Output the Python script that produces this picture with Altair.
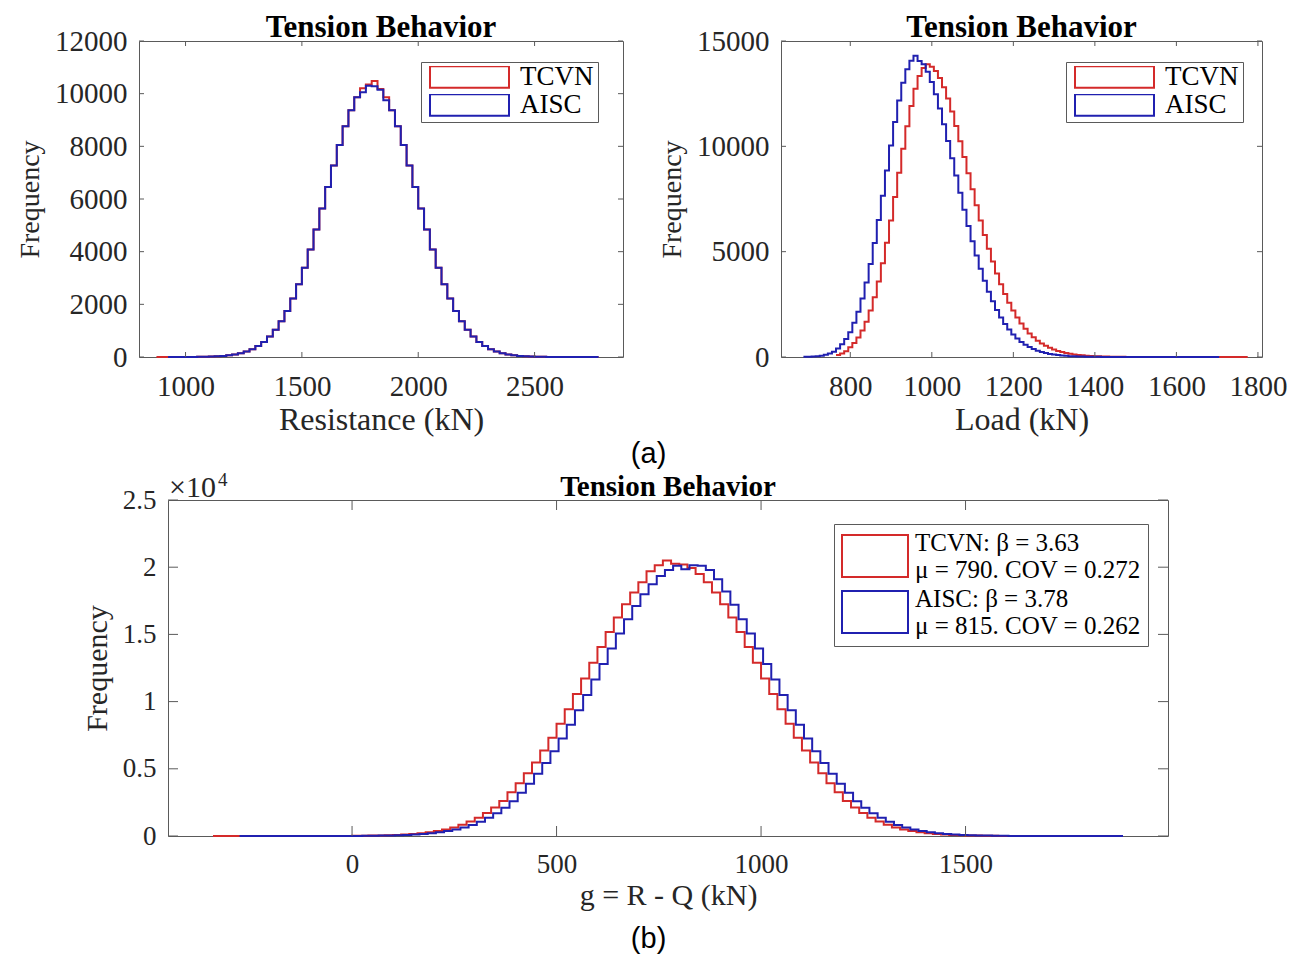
import altair as alt
import pandas as pd

RED = "#d42a2a"
BLUE = "#2020b0"
SERIES = ["TCVN", "AISC"]
FONT = "Liberation Serif"
TXT = "#262626"
FRAME = "#5a5a5a"

# ---------------- (a) left : Resistance ----------------
RES_BIN = 25
RES_TCVN_START = 875
RES_TCVN = [0, 0, 0, 1, 1, 2, 4, 6, 11, 17, 27, 42, 64, 96, 142, 207, 295, 414, 572, 776,
            1034, 1357, 1749, 2219, 2765, 3389, 4084, 4839, 5637, 6455, 7270, 8048, 8760, 9374,
            9863, 10204, 10350, 10480, 10180, 9863, 9374, 8760, 8048, 7270, 6455, 5637, 4839,
            4084, 3389, 2765, 2219, 1749, 1357, 1034, 776, 572, 414, 295, 207, 142, 96, 64, 42,
            27, 17, 11, 6, 4, 2, 1, 1, 0, 0, 0, 0, 0]
RES_AISC_START = 925
RES_AISC = [0, 1, 1, 2, 4, 6, 11, 17, 27, 42, 64, 96, 142, 207, 295, 414, 572, 776, 1034,
            1357, 1749, 2219, 2765, 3389, 4084, 4839, 5637, 6455, 7270, 8048, 8760, 9374, 9863,
            10050, 10300, 10280, 10150, 9750, 9374, 8760, 8048, 7270, 6455, 5637, 4839, 4084,
            3389, 2765, 2219, 1749, 1357, 1034, 776, 572, 414, 295, 207, 142, 96, 64, 42, 27,
            17, 11, 6, 4, 2, 1, 1, 0, 0, 0, 0, 0]
RES_XTICKS = [1000, 1500, 2000, 2500]
RES_YTICKS = [0, 2000, 4000, 6000, 8000, 10000, 12000]
RES_XDOM = [800, 2880]
RES_YDOM = [0, 12000]

# ---------------- (a) right : Load ----------------
LOAD_BIN = 10
LOAD_TCVN_START = 765
LOAD_TCVN = [100, 170, 270, 468, 662, 920, 1254, 1677, 2202, 2837, 3587, 4450, 5420, 6478,
             7597, 8745, 9880, 10954, 11919, 12729, 13340, 13721, 13900, 13780, 13576, 13246,
             12805, 12267, 11650, 10969, 10244, 9490, 8723, 7959, 7208, 6483, 5790, 5137, 4528,
             3967, 3453, 2989, 2572, 2202, 1874, 1588, 1337, 1121, 936, 777, 643, 529, 434, 355,
             289, 234, 189, 152, 122, 97, 78, 62, 49, 38, 30, 24, 18, 14, 11, 9, 7, 5, 4, 3, 2,
             2, 1, 1, 0, 0, 0, 0, 0, 0, 0, 0, 0, 0, 0, 0, 0, 0, 0, 0, 0, 0, 0, 0, 0, 0, 0]
LOAD_AISC_START = 685
LOAD_AISC = [8, 14, 24, 40, 65, 105, 165, 250, 400, 600, 850, 1180, 1621, 2144, 2782, 3541,
             4420, 5413, 6501, 7660, 8852, 10035, 11158, 12170, 13019, 13663, 14064, 14300,
             14050, 13900, 13540, 13056, 12467, 11791, 11048, 10258, 9440, 8613, 7792, 6991,
             6222, 5495, 4816, 4189, 3618, 3102, 2642, 2235, 1878, 1568, 1301, 1073, 880, 717,
             581, 469, 376, 300, 238, 188, 148, 115, 90, 70, 54, 41, 32, 24, 18, 14, 10, 8, 6,
             4, 3, 2, 2, 1, 1, 1, 0, 0, 0, 0, 0, 0, 0, 0, 0, 0, 0, 0, 0, 0, 0, 0, 0, 0, 0, 0,
             0, 0]
LOAD_XTICKS = [800, 1000, 1200, 1400, 1600, 1800]
LOAD_YTICKS = [0, 5000, 10000, 15000]
LOAD_XDOM = [630, 1810]
LOAD_YDOM = [0, 15000]

# ---------------- (b) : g = R - Q ----------------
G_BIN = 20
G_TCVN_START = -340
G_TCVN = [0, 0, 0, 0, 0, 0, 0, 0, 0, 1, 1, 1, 2, 3, 4, 6, 9, 13, 19, 28, 40, 57, 80, 110,
          150, 205, 280, 370, 490, 640, 830, 1070, 1360, 1710, 2120, 2600, 3250, 3920, 4670,
          5474, 6358, 7317, 8346, 9433, 10565, 11727, 12898, 14059, 15186, 16255, 17242,
          18124, 18879, 19700, 20150, 20500, 20250, 20208, 19935, 19488, 18879, 18124, 17242,
          16255, 15186, 14059, 12898, 11727, 10565, 9433, 8346, 7317, 6358, 5474, 4670, 3920,
          3250, 2600, 2120, 1710, 1360, 1070, 830, 640, 490, 370, 280, 205, 150, 110, 80, 57,
          40, 28, 19, 13, 9, 6, 4, 3, 2, 1, 1, 0, 0, 0, 0, 0, 0, 0, 0]
G_AISC_START = -275
G_AISC = [0, 0, 0, 0, 0, 0, 0, 0, 1, 1, 2, 3, 4, 6, 9, 13, 19, 28, 40, 57, 79, 109, 149, 203,
          278, 367, 486, 635, 824, 1062, 1350, 1697, 2104, 2581, 3226, 3891, 4635, 5434, 6311,
          7263, 8284, 9363, 10487, 11640, 12803, 13955, 15074, 16135, 17115, 17990, 18740,
          19344, 19788, 20100, 19850, 20150, 20100, 19800, 19100, 18200, 17200, 16135, 15074,
          13955, 12803, 11640, 10487, 9363, 8284, 7263, 6311, 5434, 4635, 3891, 3226, 2581,
          2104, 1697, 1350, 1062, 824, 635, 486, 367, 278, 203, 149, 109, 79, 57, 40, 28, 19,
          13, 9, 6, 4, 3, 2, 1, 1, 0, 0, 0, 0, 0, 0, 0]
G_XTICKS = [0, 500, 1000, 1500]
G_YTICKS = [0, 5000, 10000, 15000, 20000, 25000]
G_XDOM = [-450, 1995]
G_YDOM = [0, 25000]
G_LEGEND_EXPR = ("datum.label == 'TCVN' ? ['TCVN: β = 3.63', 'μ = 790. COV = 0.272'] "
                 ": ['AISC: β = 3.78', 'μ = 815. COV = 0.262']")


def stairs(start, width, counts, name):
    xs = [start + i * width for i in range(len(counts) + 1)]
    ys = list(counts) + [0]
    return pd.DataFrame({"x": xs, "n": ys, "s": name})


def panel(tcvn, aisc, xdom, ydom, xticks, yticks, w, h, tick_len, xtitle,
          title_size, lab_size, xtitle_size, ytitle_size, xlab_pad, legend,
          title_offset, ylabel_expr=None, extra=None):
    xs = alt.Scale(domain=xdom, nice=False, zero=False)
    ys = alt.Scale(domain=ydom, nice=False, zero=False)
    color = alt.Color("s:N", scale=alt.Scale(domain=SERIES, range=[RED, BLUE]), legend=legend)
    yaxis_kw = dict(values=yticks, title="Frequency", labelFontSize=lab_size,
                    titleFontSize=ytitle_size, labelPadding=12, titlePadding=10)
    if ylabel_expr:
        yaxis_kw["labelExpr"] = ylabel_expr
    else:
        yaxis_kw["format"] = "d"
    xaxis = alt.Axis(values=xticks, title=xtitle, labelFontSize=lab_size,
                     titleFontSize=xtitle_size, labelPadding=xlab_pad, titlePadding=3,
                     format="d")
    yaxis = alt.Axis(**yaxis_kw)
    base_x = alt.X("x:Q", scale=xs, axis=xaxis)
    base_y = alt.Y("n:Q", scale=ys, axis=yaxis)
    l1 = alt.Chart(tcvn).mark_line(interpolate="step-after", strokeWidth=2).encode(
        x=base_x, y=base_y, color=color)
    l2 = alt.Chart(aisc).mark_line(interpolate="step-after", strokeWidth=2).encode(
        x=base_x, y=base_y, color=color)
    xt = pd.DataFrame({"x": xticks})
    yt = pd.DataFrame({"n": yticks})
    r1 = alt.Chart(xt).mark_rule(color=FRAME, strokeWidth=1).encode(
        x=base_x, y=alt.value(h), y2=alt.value(h - tick_len))
    r2 = alt.Chart(xt).mark_rule(color=FRAME, strokeWidth=1).encode(
        x=base_x, y=alt.value(0), y2=alt.value(tick_len))
    r3 = alt.Chart(yt).mark_rule(color=FRAME, strokeWidth=1).encode(
        y=base_y, x=alt.value(0), x2=alt.value(tick_len))
    r4 = alt.Chart(yt).mark_rule(color=FRAME, strokeWidth=1).encode(
        y=base_y, x=alt.value(w - tick_len), x2=alt.value(w))
    layers = [l1, l2, r1, r2, r3, r4]
    if extra:
        layers += extra
    return alt.layer(*layers).properties(
        width=w, height=h,
        title=alt.TitleParams("Tension Behavior", fontSize=title_size, font=FONT,
                              fontWeight="bold", color="black", offset=title_offset,
                              frame="group"),
    )


def top_legend(lx, ly):
    return alt.Legend(title=None, orient="none", legendX=lx, legendY=ly,
                      symbolType="M-1,-0.27H1V0.27H-1Z", symbolSize=6241,
                      symbolStrokeWidth=2, symbolFillColor="transparent",
                      symbolOffset=4, clipHeight=22, rowPadding=1, padding=4,
                      labelOffset=10, labelFont=FONT, labelFontSize=27, labelColor="black",
                      strokeColor=FRAME, fillColor="white", labelLimit=400)


res = panel(stairs(RES_TCVN_START, RES_BIN, RES_TCVN, "TCVN"),
            stairs(RES_AISC_START, RES_BIN, RES_AISC, "AISC"),
            RES_XDOM, RES_YDOM, RES_XTICKS, RES_YTICKS, 484, 316, 5,
            "Resistance (kN)", 31, 29, 32, 28, 15, top_legend(282, 21), -17)

load = panel(stairs(LOAD_TCVN_START, LOAD_BIN, LOAD_TCVN, "TCVN"),
             stairs(LOAD_AISC_START, LOAD_BIN, LOAD_AISC, "AISC"),
             LOAD_XDOM, LOAD_YDOM, LOAD_XTICKS, LOAD_YTICKS, 481, 316, 5,
             "Load (kN)", 31, 29, 32, 28, 15, top_legend(285, 21), -17)

one = pd.DataFrame({"a": [0]})
exp_a = alt.Chart(one).mark_text(font=FONT, fontSize=30, color=TXT, align="left",
                                 baseline="alphabetic").encode(
    x=alt.value(1), y=alt.value(-3), text=alt.value("×10"))
exp_b = alt.Chart(one).mark_text(font=FONT, fontSize=19, color=TXT, align="left",
                                 baseline="alphabetic").encode(
    x=alt.value(50), y=alt.value(-14), text=alt.value("4"))

g_legend = alt.Legend(title=None, orient="none", legendX=666, legendY=24,
                      symbolType="M-1,-0.636H1V0.636H-1Z", symbolSize=4356,
                      symbolStrokeWidth=2, symbolFillColor="transparent",
                      clipHeight=50, rowPadding=4, padding=7, labelOffset=6,
                      labelFont=FONT, labelFontSize=25, labelColor="black",
                      labelBaseline="bottom",
                      strokeColor=FRAME, fillColor="white", labelLimit=600,
                      labelExpr=G_LEGEND_EXPR)

gpanel = panel(stairs(G_TCVN_START, G_BIN, G_TCVN, "TCVN"),
               stairs(G_AISC_START, G_BIN, G_AISC, "AISC"),
               G_XDOM, G_YDOM, G_XTICKS, G_YTICKS, 1000, 336, 10,
               "g = R - Q (kN)", 29, 27, 30, 30, 15, g_legend, -31,
               ylabel_expr="datum.value / 10000", extra=[exp_a, exp_b])

no_frame = alt.ViewBackground(strokeOpacity=0)
spacer_t = alt.Chart(one).mark_point(opacity=0).properties(width=1, height=10, view=no_frame)
spacer_b = alt.Chart(one).mark_point(opacity=0).properties(width=69, height=10, view=no_frame)

top_inner = alt.hconcat(res, load, spacing=34).resolve_scale(color="independent")
top = alt.hconcat(spacer_t, top_inner, spacing=0).resolve_scale(color="independent").properties(
    title=alt.TitleParams("(a)", orient="bottom", anchor="middle", font="Liberation Sans",
                          fontSize=29, fontWeight="normal", color="black", offset=4))
bottom = alt.hconcat(spacer_b, gpanel, spacing=0).resolve_scale(color="independent")

chart = alt.vconcat(top, bottom, spacing=1).properties(
    title=alt.TitleParams("(b)", orient="bottom", anchor="middle", font="Liberation Sans",
                          fontSize=29, fontWeight="normal", color="black", offset=14),
    padding={"left": 1, "top": 3, "right": 2, "bottom": 2},
).configure_view(stroke=FRAME, strokeWidth=1).configure_axis(
    labelFont=FONT, titleFont=FONT, labelColor=TXT, titleColor=TXT,
    titleFontWeight="normal", ticks=False, domain=False, grid=False
).resolve_scale(color="independent")

chart.save("out.html", embed_options={"renderer": "svg", "actions": False})
